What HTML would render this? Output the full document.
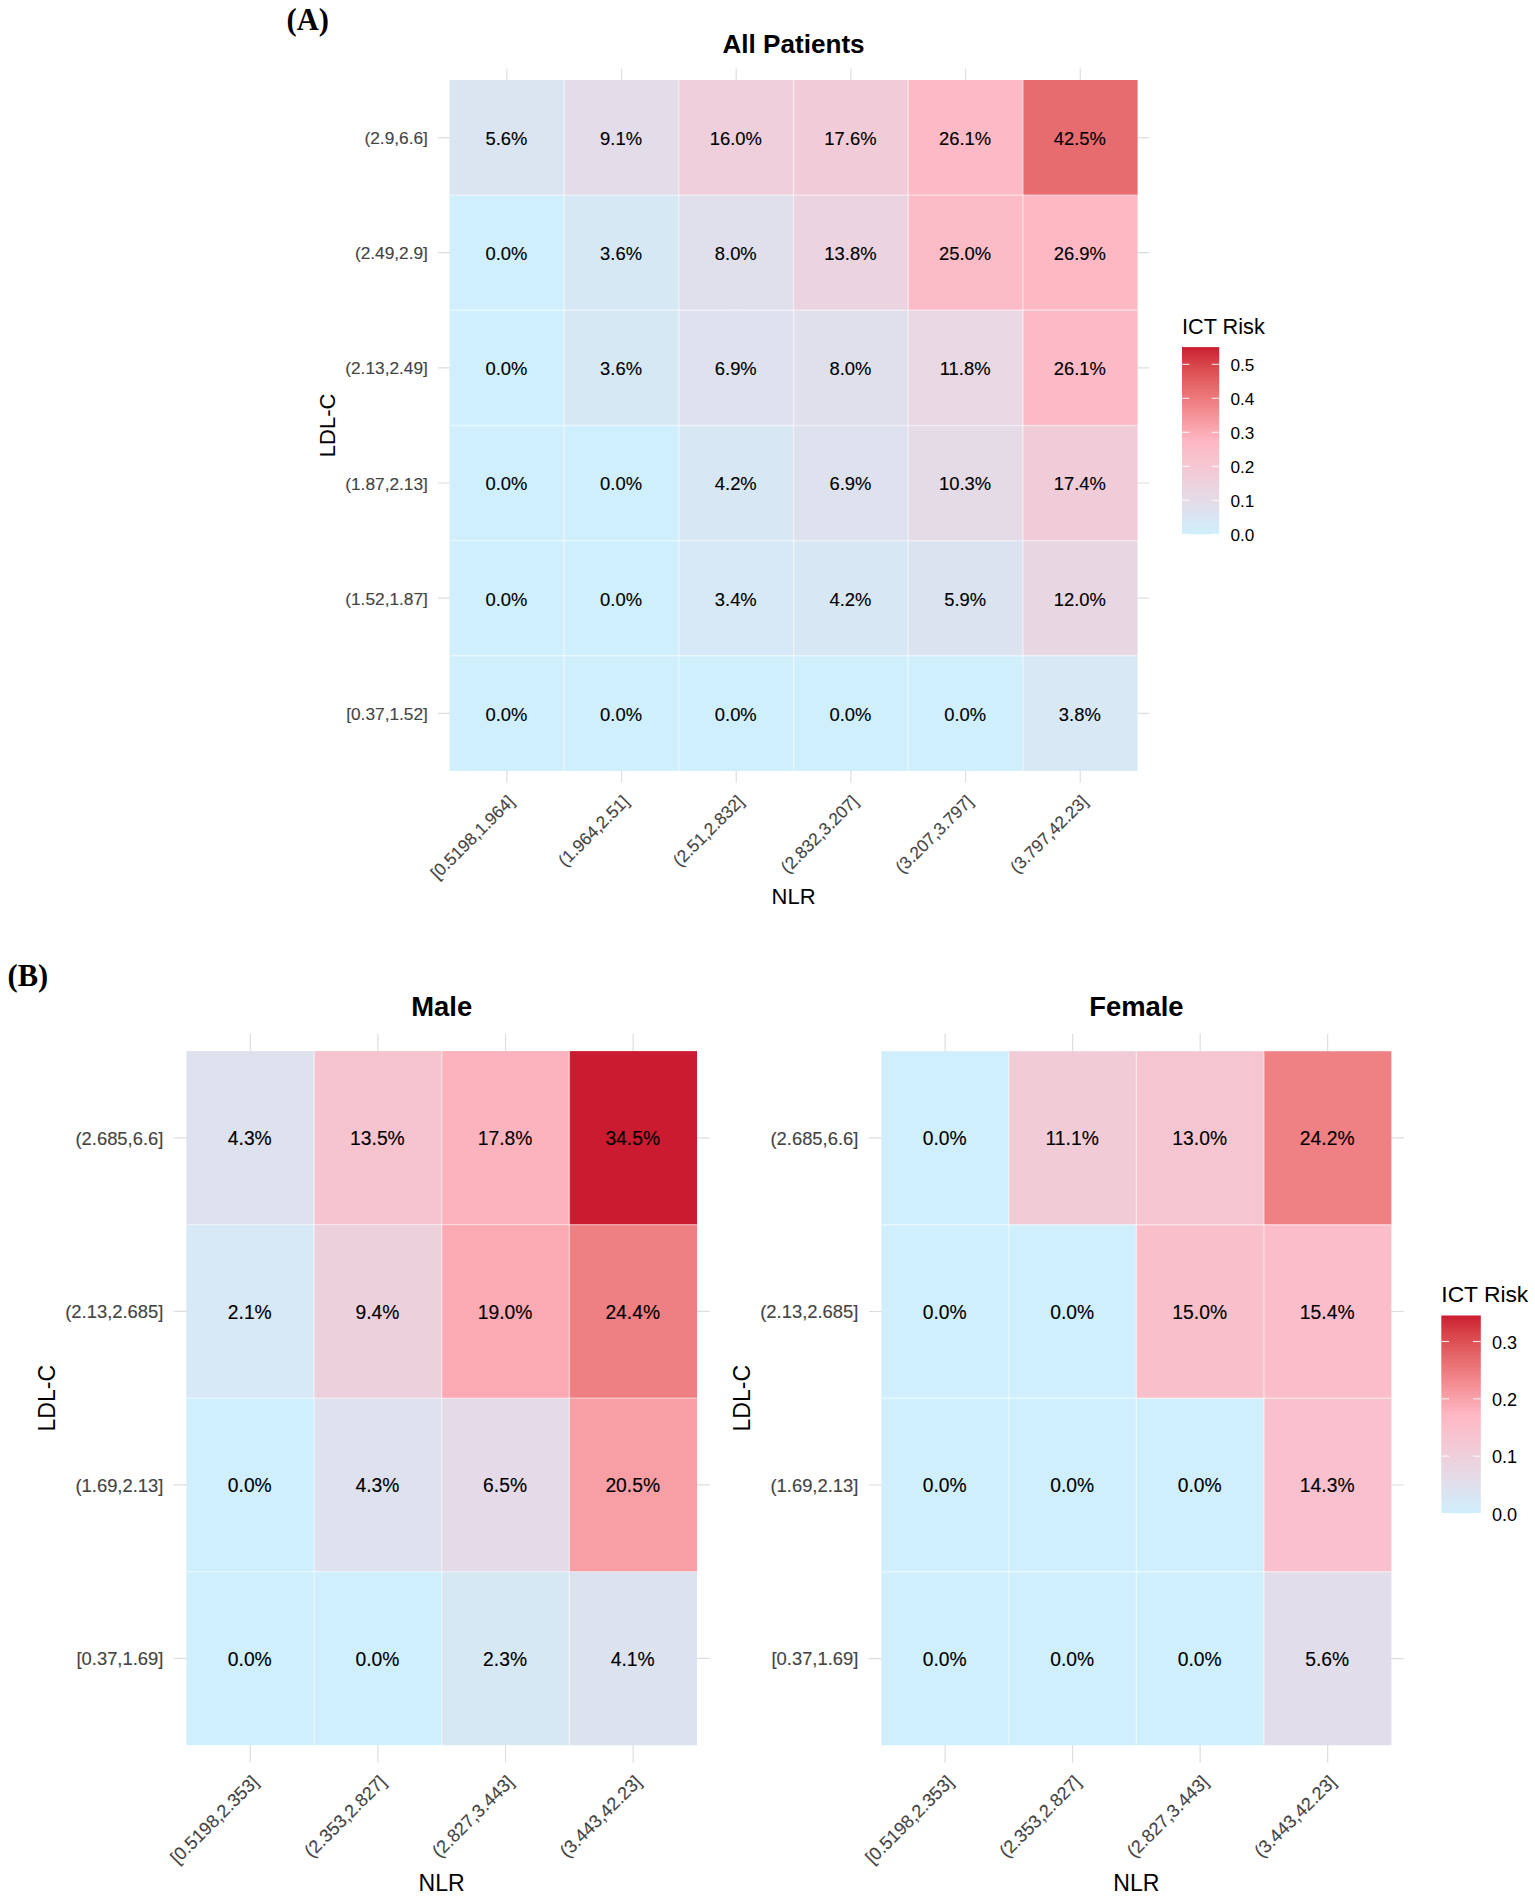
<!DOCTYPE html>
<html><head><meta charset="utf-8"><title>ICT Risk heatmaps</title>
<style>
html,body{margin:0;padding:0;background:#fff;}
svg{display:block;}
text{font-family:"Liberation Sans", Arial, Helvetica, sans-serif;}
.cell{font-size:18.4px;fill:#000;text-anchor:middle;stroke:#000;stroke-width:0.14px;}
.ax{font-size:17.3px;fill:#444;stroke:#444;stroke-width:0.14px;}
.axt{font-size:22px;fill:#000;}
.leg{font-size:17.2px;fill:#000;}
.title{font-size:26.1px;font-weight:bold;fill:#000;}
.cellB{font-size:19.3px;fill:#000;text-anchor:middle;stroke:#000;stroke-width:0.14px;}
.axB{font-size:18.4px;fill:#444;stroke:#444;stroke-width:0.14px;}
.axtB{font-size:23.1px;fill:#000;}
.legB{font-size:18.1px;fill:#000;}
.titleB{font-size:27.4px;font-weight:bold;fill:#000;}
.axx{font-size:17.2px;}
.axxB{font-size:18.1px;}
.lt{font-size:21.7px;fill:#000;}
.ltB{font-size:22.8px;fill:#000;}
.lab{font-family:"Liberation Serif", "Times New Roman", serif;font-size:30.5px;font-weight:bold;fill:#000;}
</style></head><body>
<svg width="1535" height="1901" viewBox="0 0 1535 1901">
<rect width="1535" height="1901" fill="#ffffff"/>
<line x1="506.84" y1="68.48" x2="506.84" y2="782.41" stroke="#dedede" stroke-width="1.2"/>
<line x1="621.52" y1="68.48" x2="621.52" y2="782.41" stroke="#dedede" stroke-width="1.2"/>
<line x1="736.21" y1="68.48" x2="736.21" y2="782.41" stroke="#dedede" stroke-width="1.2"/>
<line x1="850.89" y1="68.48" x2="850.89" y2="782.41" stroke="#dedede" stroke-width="1.2"/>
<line x1="965.57" y1="68.48" x2="965.57" y2="782.41" stroke="#dedede" stroke-width="1.2"/>
<line x1="1080.26" y1="68.48" x2="1080.26" y2="782.41" stroke="#dedede" stroke-width="1.2"/>
<line x1="438.03" y1="137.57" x2="1149.07" y2="137.57" stroke="#dedede" stroke-width="1.2"/>
<line x1="438.03" y1="252.72" x2="1149.07" y2="252.72" stroke="#dedede" stroke-width="1.2"/>
<line x1="438.03" y1="367.88" x2="1149.07" y2="367.88" stroke="#dedede" stroke-width="1.2"/>
<line x1="438.03" y1="483.02" x2="1149.07" y2="483.02" stroke="#dedede" stroke-width="1.2"/>
<line x1="438.03" y1="598.17" x2="1149.07" y2="598.17" stroke="#dedede" stroke-width="1.2"/>
<line x1="438.03" y1="713.32" x2="1149.07" y2="713.32" stroke="#dedede" stroke-width="1.2"/>
<g>
<rect x="449.50" y="80.00" width="115.28" height="115.75" fill="#dbe4f1"/>
<rect x="564.18" y="80.00" width="115.28" height="115.75" fill="#e2dde9"/>
<rect x="678.87" y="80.00" width="115.28" height="115.75" fill="#eecfdb"/>
<rect x="793.55" y="80.00" width="115.28" height="115.75" fill="#f1ccd8"/>
<rect x="908.23" y="80.00" width="115.28" height="115.75" fill="#fcbac6"/>
<rect x="1022.92" y="80.00" width="114.68" height="115.75" fill="#e76c6f"/>
<rect x="449.50" y="195.15" width="115.28" height="115.75" fill="#cfeffd"/>
<rect x="564.18" y="195.15" width="115.28" height="115.75" fill="#d7e8f5"/>
<rect x="678.87" y="195.15" width="115.28" height="115.75" fill="#e0dfec"/>
<rect x="793.55" y="195.15" width="115.28" height="115.75" fill="#ebd4e0"/>
<rect x="908.23" y="195.15" width="115.28" height="115.75" fill="#fbbcc8"/>
<rect x="1022.92" y="195.15" width="114.68" height="115.75" fill="#fdb8c4"/>
<rect x="449.50" y="310.30" width="115.28" height="115.75" fill="#cfeffd"/>
<rect x="564.18" y="310.30" width="115.28" height="115.75" fill="#d7e8f5"/>
<rect x="678.87" y="310.30" width="115.28" height="115.75" fill="#dee1ee"/>
<rect x="793.55" y="310.30" width="115.28" height="115.75" fill="#e0dfec"/>
<rect x="908.23" y="310.30" width="115.28" height="115.75" fill="#e7d8e4"/>
<rect x="1022.92" y="310.30" width="114.68" height="115.75" fill="#fcbac6"/>
<rect x="449.50" y="425.45" width="115.28" height="115.75" fill="#cfeffd"/>
<rect x="564.18" y="425.45" width="115.28" height="115.75" fill="#cfeffd"/>
<rect x="678.87" y="425.45" width="115.28" height="115.75" fill="#d8e7f4"/>
<rect x="793.55" y="425.45" width="115.28" height="115.75" fill="#dee1ee"/>
<rect x="908.23" y="425.45" width="115.28" height="115.75" fill="#e4dbe7"/>
<rect x="1022.92" y="425.45" width="114.68" height="115.75" fill="#f0ccd8"/>
<rect x="449.50" y="540.60" width="115.28" height="115.75" fill="#cfeffd"/>
<rect x="564.18" y="540.60" width="115.28" height="115.75" fill="#cfeffd"/>
<rect x="678.87" y="540.60" width="115.28" height="115.75" fill="#d7e8f6"/>
<rect x="793.55" y="540.60" width="115.28" height="115.75" fill="#d8e7f4"/>
<rect x="908.23" y="540.60" width="115.28" height="115.75" fill="#dce3f0"/>
<rect x="1022.92" y="540.60" width="114.68" height="115.75" fill="#e7d7e3"/>
<rect x="449.50" y="655.75" width="115.28" height="115.15" fill="#cfeffd"/>
<rect x="564.18" y="655.75" width="115.28" height="115.15" fill="#cfeffd"/>
<rect x="678.87" y="655.75" width="115.28" height="115.15" fill="#cfeffd"/>
<rect x="793.55" y="655.75" width="115.28" height="115.15" fill="#cfeffd"/>
<rect x="908.23" y="655.75" width="115.28" height="115.15" fill="#cfeffd"/>
<rect x="1022.92" y="655.75" width="114.68" height="115.15" fill="#d8e8f5"/>
</g>
<line x1="564.18" y1="80.00" x2="564.18" y2="770.90" stroke="#fff" stroke-opacity="0.5" stroke-width="1.4"/>
<line x1="678.87" y1="80.00" x2="678.87" y2="770.90" stroke="#fff" stroke-opacity="0.5" stroke-width="1.4"/>
<line x1="793.55" y1="80.00" x2="793.55" y2="770.90" stroke="#fff" stroke-opacity="0.5" stroke-width="1.4"/>
<line x1="908.23" y1="80.00" x2="908.23" y2="770.90" stroke="#fff" stroke-opacity="0.5" stroke-width="1.4"/>
<line x1="1022.92" y1="80.00" x2="1022.92" y2="770.90" stroke="#fff" stroke-opacity="0.5" stroke-width="1.4"/>
<line x1="449.50" y1="195.15" x2="1137.60" y2="195.15" stroke="#fff" stroke-opacity="0.5" stroke-width="1.4"/>
<line x1="449.50" y1="310.30" x2="1137.60" y2="310.30" stroke="#fff" stroke-opacity="0.5" stroke-width="1.4"/>
<line x1="449.50" y1="425.45" x2="1137.60" y2="425.45" stroke="#fff" stroke-opacity="0.5" stroke-width="1.4"/>
<line x1="449.50" y1="540.60" x2="1137.60" y2="540.60" stroke="#fff" stroke-opacity="0.5" stroke-width="1.4"/>
<line x1="449.50" y1="655.75" x2="1137.60" y2="655.75" stroke="#fff" stroke-opacity="0.5" stroke-width="1.4"/>
<text x="506.39" y="144.97" class="cell">5.6%</text>
<text x="621.07" y="144.97" class="cell">9.1%</text>
<text x="735.76" y="144.97" class="cell">16.0%</text>
<text x="850.44" y="144.97" class="cell">17.6%</text>
<text x="965.12" y="144.97" class="cell">26.1%</text>
<text x="1079.81" y="144.97" class="cell">42.5%</text>
<text x="506.39" y="260.12" class="cell">0.0%</text>
<text x="621.07" y="260.12" class="cell">3.6%</text>
<text x="735.76" y="260.12" class="cell">8.0%</text>
<text x="850.44" y="260.12" class="cell">13.8%</text>
<text x="965.12" y="260.12" class="cell">25.0%</text>
<text x="1079.81" y="260.12" class="cell">26.9%</text>
<text x="506.39" y="375.27" class="cell">0.0%</text>
<text x="621.07" y="375.27" class="cell">3.6%</text>
<text x="735.76" y="375.27" class="cell">6.9%</text>
<text x="850.44" y="375.27" class="cell">8.0%</text>
<text x="965.12" y="375.27" class="cell">11.8%</text>
<text x="1079.81" y="375.27" class="cell">26.1%</text>
<text x="506.39" y="490.42" class="cell">0.0%</text>
<text x="621.07" y="490.42" class="cell">0.0%</text>
<text x="735.76" y="490.42" class="cell">4.2%</text>
<text x="850.44" y="490.42" class="cell">6.9%</text>
<text x="965.12" y="490.42" class="cell">10.3%</text>
<text x="1079.81" y="490.42" class="cell">17.4%</text>
<text x="506.39" y="605.57" class="cell">0.0%</text>
<text x="621.07" y="605.57" class="cell">0.0%</text>
<text x="735.76" y="605.57" class="cell">3.4%</text>
<text x="850.44" y="605.57" class="cell">4.2%</text>
<text x="965.12" y="605.57" class="cell">5.9%</text>
<text x="1079.81" y="605.57" class="cell">12.0%</text>
<text x="506.39" y="720.72" class="cell">0.0%</text>
<text x="621.07" y="720.72" class="cell">0.0%</text>
<text x="735.76" y="720.72" class="cell">0.0%</text>
<text x="850.44" y="720.72" class="cell">0.0%</text>
<text x="965.12" y="720.72" class="cell">0.0%</text>
<text x="1079.81" y="720.72" class="cell">3.8%</text>
<text x="427.90" y="144.07" class="ax" text-anchor="end">(2.9,6.6]</text>
<text x="427.90" y="259.23" class="ax" text-anchor="end">(2.49,2.9]</text>
<text x="427.90" y="374.38" class="ax" text-anchor="end">(2.13,2.49]</text>
<text x="427.90" y="489.52" class="ax" text-anchor="end">(1.87,2.13]</text>
<text x="427.90" y="604.67" class="ax" text-anchor="end">(1.52,1.87]</text>
<text x="427.90" y="719.82" class="ax" text-anchor="end">[0.37,1.52]</text>
<text transform="translate(515.44,802.50) rotate(-45)" class="ax axx" text-anchor="end">[0.5198,1.964]</text>
<text transform="translate(630.12,802.50) rotate(-45)" class="ax axx" text-anchor="end">(1.964,2.51]</text>
<text transform="translate(744.81,802.50) rotate(-45)" class="ax axx" text-anchor="end">(2.51,2.832]</text>
<text transform="translate(859.49,802.50) rotate(-45)" class="ax axx" text-anchor="end">(2.832,3.207]</text>
<text transform="translate(974.17,802.50) rotate(-45)" class="ax axx" text-anchor="end">(3.207,3.797]</text>
<text transform="translate(1088.86,802.50) rotate(-45)" class="ax axx" text-anchor="end">(3.797,42.23]</text>
<text x="793.55" y="53.00" class="title" text-anchor="middle">All Patients</text>
<text x="793.55" y="904.00" class="axt" text-anchor="middle">NLR</text>
<text transform="translate(334.90,425.45) rotate(-90)" class="axt" text-anchor="middle">LDL-C</text>
<line x1="250.23" y1="1033.75" x2="250.23" y2="1762.55" stroke="#dedede" stroke-width="1.2"/>
<line x1="377.88" y1="1033.75" x2="377.88" y2="1762.55" stroke="#dedede" stroke-width="1.2"/>
<line x1="505.52" y1="1033.75" x2="505.52" y2="1762.55" stroke="#dedede" stroke-width="1.2"/>
<line x1="633.18" y1="1033.75" x2="633.18" y2="1762.55" stroke="#dedede" stroke-width="1.2"/>
<line x1="173.63" y1="1137.86" x2="709.76" y2="1137.86" stroke="#dedede" stroke-width="1.2"/>
<line x1="173.63" y1="1311.39" x2="709.76" y2="1311.39" stroke="#dedede" stroke-width="1.2"/>
<line x1="173.63" y1="1484.91" x2="709.76" y2="1484.91" stroke="#dedede" stroke-width="1.2"/>
<line x1="173.63" y1="1658.44" x2="709.76" y2="1658.44" stroke="#dedede" stroke-width="1.2"/>
<g>
<rect x="186.40" y="1051.10" width="128.25" height="174.12" fill="#dee1ee"/>
<rect x="314.05" y="1051.10" width="128.25" height="174.12" fill="#f6c4cf"/>
<rect x="441.70" y="1051.10" width="128.25" height="174.12" fill="#fdb3be"/>
<rect x="569.35" y="1051.10" width="127.65" height="174.12" fill="#cb1b30"/>
<rect x="186.40" y="1224.62" width="128.25" height="174.12" fill="#d7e8f6"/>
<rect x="314.05" y="1224.62" width="128.25" height="174.12" fill="#ecd1dd"/>
<rect x="441.70" y="1224.62" width="128.25" height="174.12" fill="#fba9b3"/>
<rect x="569.35" y="1224.62" width="127.65" height="174.12" fill="#ee7f83"/>
<rect x="186.40" y="1398.15" width="128.25" height="174.12" fill="#cfeffd"/>
<rect x="314.05" y="1398.15" width="128.25" height="174.12" fill="#dee1ee"/>
<rect x="441.70" y="1398.15" width="128.25" height="174.12" fill="#e5dae7"/>
<rect x="569.35" y="1398.15" width="127.65" height="174.12" fill="#f89ea5"/>
<rect x="186.40" y="1571.67" width="128.25" height="173.53" fill="#cfeffd"/>
<rect x="314.05" y="1571.67" width="128.25" height="173.53" fill="#cfeffd"/>
<rect x="441.70" y="1571.67" width="128.25" height="173.53" fill="#d7e8f5"/>
<rect x="569.35" y="1571.67" width="127.65" height="173.53" fill="#dde2ef"/>
</g>
<line x1="314.05" y1="1051.10" x2="314.05" y2="1745.20" stroke="#fff" stroke-opacity="0.5" stroke-width="1.4"/>
<line x1="441.70" y1="1051.10" x2="441.70" y2="1745.20" stroke="#fff" stroke-opacity="0.5" stroke-width="1.4"/>
<line x1="569.35" y1="1051.10" x2="569.35" y2="1745.20" stroke="#fff" stroke-opacity="0.5" stroke-width="1.4"/>
<line x1="186.40" y1="1224.62" x2="697.00" y2="1224.62" stroke="#fff" stroke-opacity="0.5" stroke-width="1.4"/>
<line x1="186.40" y1="1398.15" x2="697.00" y2="1398.15" stroke="#fff" stroke-opacity="0.5" stroke-width="1.4"/>
<line x1="186.40" y1="1571.67" x2="697.00" y2="1571.67" stroke="#fff" stroke-opacity="0.5" stroke-width="1.4"/>
<text x="249.78" y="1145.06" class="cellB">4.3%</text>
<text x="377.43" y="1145.06" class="cellB">13.5%</text>
<text x="505.07" y="1145.06" class="cellB">17.8%</text>
<text x="632.73" y="1145.06" class="cellB">34.5%</text>
<text x="249.78" y="1318.59" class="cellB">2.1%</text>
<text x="377.43" y="1318.59" class="cellB">9.4%</text>
<text x="505.07" y="1318.59" class="cellB">19.0%</text>
<text x="632.73" y="1318.59" class="cellB">24.4%</text>
<text x="249.78" y="1492.11" class="cellB">0.0%</text>
<text x="377.43" y="1492.11" class="cellB">4.3%</text>
<text x="505.07" y="1492.11" class="cellB">6.5%</text>
<text x="632.73" y="1492.11" class="cellB">20.5%</text>
<text x="249.78" y="1665.64" class="cellB">0.0%</text>
<text x="377.43" y="1665.64" class="cellB">0.0%</text>
<text x="505.07" y="1665.64" class="cellB">2.3%</text>
<text x="632.73" y="1665.64" class="cellB">4.1%</text>
<text x="163.40" y="1144.69" class="axB" text-anchor="end">(2.685,6.6]</text>
<text x="163.40" y="1318.21" class="axB" text-anchor="end">(2.13,2.685]</text>
<text x="163.40" y="1491.74" class="axB" text-anchor="end">(1.69,2.13]</text>
<text x="163.40" y="1665.26" class="axB" text-anchor="end">[0.37,1.69]</text>
<text transform="translate(259.62,1783.10) rotate(-45)" class="axB axxB" text-anchor="end">[0.5198,2.353]</text>
<text transform="translate(387.27,1783.10) rotate(-45)" class="axB axxB" text-anchor="end">(2.353,2.827]</text>
<text transform="translate(514.92,1783.10) rotate(-45)" class="axB axxB" text-anchor="end">(2.827,3.443]</text>
<text transform="translate(642.58,1783.10) rotate(-45)" class="axB axxB" text-anchor="end">(3.443,42.23]</text>
<text x="441.70" y="1015.70" class="titleB" text-anchor="middle">Male</text>
<text x="441.70" y="1890.70" class="axtB" text-anchor="middle">NLR</text>
<text transform="translate(54.50,1398.15) rotate(-90)" class="axtB" text-anchor="middle">LDL-C</text>
<line x1="945.15" y1="1033.85" x2="945.15" y2="1762.65" stroke="#dedede" stroke-width="1.2"/>
<line x1="1072.65" y1="1033.85" x2="1072.65" y2="1762.65" stroke="#dedede" stroke-width="1.2"/>
<line x1="1200.15" y1="1033.85" x2="1200.15" y2="1762.65" stroke="#dedede" stroke-width="1.2"/>
<line x1="1327.65" y1="1033.85" x2="1327.65" y2="1762.65" stroke="#dedede" stroke-width="1.2"/>
<line x1="868.65" y1="1137.96" x2="1404.15" y2="1137.96" stroke="#dedede" stroke-width="1.2"/>
<line x1="868.65" y1="1311.49" x2="1404.15" y2="1311.49" stroke="#dedede" stroke-width="1.2"/>
<line x1="868.65" y1="1485.01" x2="1404.15" y2="1485.01" stroke="#dedede" stroke-width="1.2"/>
<line x1="868.65" y1="1658.54" x2="1404.15" y2="1658.54" stroke="#dedede" stroke-width="1.2"/>
<g>
<rect x="881.40" y="1051.20" width="128.10" height="174.12" fill="#cfeffd"/>
<rect x="1008.90" y="1051.20" width="128.10" height="174.12" fill="#f1ccd7"/>
<rect x="1136.40" y="1051.20" width="128.10" height="174.12" fill="#f5c5d1"/>
<rect x="1263.90" y="1051.20" width="127.50" height="174.12" fill="#ef8084"/>
<rect x="881.40" y="1224.72" width="128.10" height="174.12" fill="#cfeffd"/>
<rect x="1008.90" y="1224.72" width="128.10" height="174.12" fill="#cfeffd"/>
<rect x="1136.40" y="1224.72" width="128.10" height="174.12" fill="#f9bfca"/>
<rect x="1263.90" y="1224.72" width="127.50" height="174.12" fill="#fabdc9"/>
<rect x="881.40" y="1398.25" width="128.10" height="174.12" fill="#cfeffd"/>
<rect x="1008.90" y="1398.25" width="128.10" height="174.12" fill="#cfeffd"/>
<rect x="1136.40" y="1398.25" width="128.10" height="174.12" fill="#cfeffd"/>
<rect x="1263.90" y="1398.25" width="127.50" height="174.12" fill="#f8c1cd"/>
<rect x="881.40" y="1571.78" width="128.10" height="173.52" fill="#cfeffd"/>
<rect x="1008.90" y="1571.78" width="128.10" height="173.52" fill="#cfeffd"/>
<rect x="1136.40" y="1571.78" width="128.10" height="173.52" fill="#cfeffd"/>
<rect x="1263.90" y="1571.78" width="127.50" height="173.52" fill="#e2ddea"/>
</g>
<line x1="1008.90" y1="1051.20" x2="1008.90" y2="1745.30" stroke="#fff" stroke-opacity="0.5" stroke-width="1.4"/>
<line x1="1136.40" y1="1051.20" x2="1136.40" y2="1745.30" stroke="#fff" stroke-opacity="0.5" stroke-width="1.4"/>
<line x1="1263.90" y1="1051.20" x2="1263.90" y2="1745.30" stroke="#fff" stroke-opacity="0.5" stroke-width="1.4"/>
<line x1="881.40" y1="1224.72" x2="1391.40" y2="1224.72" stroke="#fff" stroke-opacity="0.5" stroke-width="1.4"/>
<line x1="881.40" y1="1398.25" x2="1391.40" y2="1398.25" stroke="#fff" stroke-opacity="0.5" stroke-width="1.4"/>
<line x1="881.40" y1="1571.78" x2="1391.40" y2="1571.78" stroke="#fff" stroke-opacity="0.5" stroke-width="1.4"/>
<text x="944.70" y="1145.16" class="cellB">0.0%</text>
<text x="1072.20" y="1145.16" class="cellB">11.1%</text>
<text x="1199.70" y="1145.16" class="cellB">13.0%</text>
<text x="1327.20" y="1145.16" class="cellB">24.2%</text>
<text x="944.70" y="1318.69" class="cellB">0.0%</text>
<text x="1072.20" y="1318.69" class="cellB">0.0%</text>
<text x="1199.70" y="1318.69" class="cellB">15.0%</text>
<text x="1327.20" y="1318.69" class="cellB">15.4%</text>
<text x="944.70" y="1492.21" class="cellB">0.0%</text>
<text x="1072.20" y="1492.21" class="cellB">0.0%</text>
<text x="1199.70" y="1492.21" class="cellB">0.0%</text>
<text x="1327.20" y="1492.21" class="cellB">14.3%</text>
<text x="944.70" y="1665.74" class="cellB">0.0%</text>
<text x="1072.20" y="1665.74" class="cellB">0.0%</text>
<text x="1199.70" y="1665.74" class="cellB">0.0%</text>
<text x="1327.20" y="1665.74" class="cellB">5.6%</text>
<text x="858.40" y="1144.79" class="axB" text-anchor="end">(2.685,6.6]</text>
<text x="858.40" y="1318.31" class="axB" text-anchor="end">(2.13,2.685]</text>
<text x="858.40" y="1491.84" class="axB" text-anchor="end">(1.69,2.13]</text>
<text x="858.40" y="1665.36" class="axB" text-anchor="end">[0.37,1.69]</text>
<text transform="translate(954.55,1783.20) rotate(-45)" class="axB axxB" text-anchor="end">[0.5198,2.353]</text>
<text transform="translate(1082.05,1783.20) rotate(-45)" class="axB axxB" text-anchor="end">(2.353,2.827]</text>
<text transform="translate(1209.55,1783.20) rotate(-45)" class="axB axxB" text-anchor="end">(2.827,3.443]</text>
<text transform="translate(1337.05,1783.20) rotate(-45)" class="axB axxB" text-anchor="end">(3.443,42.23]</text>
<text x="1136.40" y="1015.70" class="titleB" text-anchor="middle">Female</text>
<text x="1136.40" y="1890.70" class="axtB" text-anchor="middle">NLR</text>
<text transform="translate(749.50,1398.25) rotate(-90)" class="axtB" text-anchor="middle">LDL-C</text>
<defs><linearGradient id="gA" x1="0" y1="1" x2="0" y2="0">
<stop offset="0.0000" stop-color="#cfeffd"/>
<stop offset="0.0250" stop-color="#d2ecfa"/>
<stop offset="0.0500" stop-color="#d5eaf7"/>
<stop offset="0.0750" stop-color="#d8e7f4"/>
<stop offset="0.1000" stop-color="#dbe4f1"/>
<stop offset="0.1250" stop-color="#dee1ee"/>
<stop offset="0.1500" stop-color="#e1dfeb"/>
<stop offset="0.1750" stop-color="#e3dce8"/>
<stop offset="0.2000" stop-color="#e6d9e5"/>
<stop offset="0.2250" stop-color="#e8d6e3"/>
<stop offset="0.2500" stop-color="#ead4e0"/>
<stop offset="0.2750" stop-color="#edd1dd"/>
<stop offset="0.3000" stop-color="#efceda"/>
<stop offset="0.3250" stop-color="#f1cbd7"/>
<stop offset="0.3500" stop-color="#f3c8d4"/>
<stop offset="0.3750" stop-color="#f5c6d1"/>
<stop offset="0.4000" stop-color="#f7c3ce"/>
<stop offset="0.4250" stop-color="#f9c0cc"/>
<stop offset="0.4500" stop-color="#fbbdc9"/>
<stop offset="0.4750" stop-color="#fcbac6"/>
<stop offset="0.5000" stop-color="#feb7c3"/>
<stop offset="0.5250" stop-color="#fdb0bb"/>
<stop offset="0.5500" stop-color="#fbaab3"/>
<stop offset="0.5750" stop-color="#f9a3ab"/>
<stop offset="0.6000" stop-color="#f79ca3"/>
<stop offset="0.6250" stop-color="#f5959c"/>
<stop offset="0.6500" stop-color="#f38f94"/>
<stop offset="0.6750" stop-color="#f1888c"/>
<stop offset="0.7000" stop-color="#ef8185"/>
<stop offset="0.7250" stop-color="#ec7a7d"/>
<stop offset="0.7500" stop-color="#ea7376"/>
<stop offset="0.7750" stop-color="#e76c6f"/>
<stop offset="0.8000" stop-color="#e46567"/>
<stop offset="0.8250" stop-color="#e25d60"/>
<stop offset="0.8500" stop-color="#df5659"/>
<stop offset="0.8750" stop-color="#dc4e52"/>
<stop offset="0.9000" stop-color="#d8464b"/>
<stop offset="0.9250" stop-color="#d53d44"/>
<stop offset="0.9500" stop-color="#d2333d"/>
<stop offset="0.9750" stop-color="#cf2937"/>
<stop offset="1.0000" stop-color="#cb1b30"/>
</linearGradient></defs>
<rect x="1182.00" y="347.10" width="37.20" height="187.20" fill="url(#gA)"/>
<line x1="1182.00" y1="534.30" x2="1189.44" y2="534.30" stroke="#fff" stroke-opacity="0.85" stroke-width="1.1"/>
<line x1="1211.76" y1="534.30" x2="1219.20" y2="534.30" stroke="#fff" stroke-opacity="0.85" stroke-width="1.1"/>
<text x="1230.50" y="540.60" class="leg">0.0</text>
<line x1="1182.00" y1="500.30" x2="1189.44" y2="500.30" stroke="#fff" stroke-opacity="0.85" stroke-width="1.1"/>
<line x1="1211.76" y1="500.30" x2="1219.20" y2="500.30" stroke="#fff" stroke-opacity="0.85" stroke-width="1.1"/>
<text x="1230.50" y="506.60" class="leg">0.1</text>
<line x1="1182.00" y1="466.30" x2="1189.44" y2="466.30" stroke="#fff" stroke-opacity="0.85" stroke-width="1.1"/>
<line x1="1211.76" y1="466.30" x2="1219.20" y2="466.30" stroke="#fff" stroke-opacity="0.85" stroke-width="1.1"/>
<text x="1230.50" y="472.60" class="leg">0.2</text>
<line x1="1182.00" y1="432.30" x2="1189.44" y2="432.30" stroke="#fff" stroke-opacity="0.85" stroke-width="1.1"/>
<line x1="1211.76" y1="432.30" x2="1219.20" y2="432.30" stroke="#fff" stroke-opacity="0.85" stroke-width="1.1"/>
<text x="1230.50" y="438.60" class="leg">0.3</text>
<line x1="1182.00" y1="398.30" x2="1189.44" y2="398.30" stroke="#fff" stroke-opacity="0.85" stroke-width="1.1"/>
<line x1="1211.76" y1="398.30" x2="1219.20" y2="398.30" stroke="#fff" stroke-opacity="0.85" stroke-width="1.1"/>
<text x="1230.50" y="404.60" class="leg">0.4</text>
<line x1="1182.00" y1="364.30" x2="1189.44" y2="364.30" stroke="#fff" stroke-opacity="0.85" stroke-width="1.1"/>
<line x1="1211.76" y1="364.30" x2="1219.20" y2="364.30" stroke="#fff" stroke-opacity="0.85" stroke-width="1.1"/>
<text x="1230.50" y="370.60" class="leg">0.5</text>
<text x="1182.00" y="334.00" class="lt">ICT Risk</text>
<defs><linearGradient id="gB" x1="0" y1="1" x2="0" y2="0">
<stop offset="0.0000" stop-color="#cfeffd"/>
<stop offset="0.0250" stop-color="#d2ecfa"/>
<stop offset="0.0500" stop-color="#d5eaf7"/>
<stop offset="0.0750" stop-color="#d8e7f4"/>
<stop offset="0.1000" stop-color="#dbe4f1"/>
<stop offset="0.1250" stop-color="#dee1ee"/>
<stop offset="0.1500" stop-color="#e1dfeb"/>
<stop offset="0.1750" stop-color="#e3dce8"/>
<stop offset="0.2000" stop-color="#e6d9e5"/>
<stop offset="0.2250" stop-color="#e8d6e3"/>
<stop offset="0.2500" stop-color="#ead4e0"/>
<stop offset="0.2750" stop-color="#edd1dd"/>
<stop offset="0.3000" stop-color="#efceda"/>
<stop offset="0.3250" stop-color="#f1cbd7"/>
<stop offset="0.3500" stop-color="#f3c8d4"/>
<stop offset="0.3750" stop-color="#f5c6d1"/>
<stop offset="0.4000" stop-color="#f7c3ce"/>
<stop offset="0.4250" stop-color="#f9c0cc"/>
<stop offset="0.4500" stop-color="#fbbdc9"/>
<stop offset="0.4750" stop-color="#fcbac6"/>
<stop offset="0.5000" stop-color="#feb7c3"/>
<stop offset="0.5250" stop-color="#fdb0bb"/>
<stop offset="0.5500" stop-color="#fbaab3"/>
<stop offset="0.5750" stop-color="#f9a3ab"/>
<stop offset="0.6000" stop-color="#f79ca3"/>
<stop offset="0.6250" stop-color="#f5959c"/>
<stop offset="0.6500" stop-color="#f38f94"/>
<stop offset="0.6750" stop-color="#f1888c"/>
<stop offset="0.7000" stop-color="#ef8185"/>
<stop offset="0.7250" stop-color="#ec7a7d"/>
<stop offset="0.7500" stop-color="#ea7376"/>
<stop offset="0.7750" stop-color="#e76c6f"/>
<stop offset="0.8000" stop-color="#e46567"/>
<stop offset="0.8250" stop-color="#e25d60"/>
<stop offset="0.8500" stop-color="#df5659"/>
<stop offset="0.8750" stop-color="#dc4e52"/>
<stop offset="0.9000" stop-color="#d8464b"/>
<stop offset="0.9250" stop-color="#d53d44"/>
<stop offset="0.9500" stop-color="#d2333d"/>
<stop offset="0.9750" stop-color="#cf2937"/>
<stop offset="1.0000" stop-color="#cb1b30"/>
</linearGradient></defs>
<rect x="1441.30" y="1315.50" width="39.50" height="197.90" fill="url(#gB)"/>
<line x1="1441.30" y1="1513.40" x2="1449.20" y2="1513.40" stroke="#fff" stroke-opacity="0.85" stroke-width="1.1"/>
<line x1="1472.90" y1="1513.40" x2="1480.80" y2="1513.40" stroke="#fff" stroke-opacity="0.85" stroke-width="1.1"/>
<text x="1492.00" y="1520.62" class="legB">0.0</text>
<line x1="1441.30" y1="1456.10" x2="1449.20" y2="1456.10" stroke="#fff" stroke-opacity="0.85" stroke-width="1.1"/>
<line x1="1472.90" y1="1456.10" x2="1480.80" y2="1456.10" stroke="#fff" stroke-opacity="0.85" stroke-width="1.1"/>
<text x="1492.00" y="1463.32" class="legB">0.1</text>
<line x1="1441.30" y1="1398.80" x2="1449.20" y2="1398.80" stroke="#fff" stroke-opacity="0.85" stroke-width="1.1"/>
<line x1="1472.90" y1="1398.80" x2="1480.80" y2="1398.80" stroke="#fff" stroke-opacity="0.85" stroke-width="1.1"/>
<text x="1492.00" y="1406.02" class="legB">0.2</text>
<line x1="1441.30" y1="1341.50" x2="1449.20" y2="1341.50" stroke="#fff" stroke-opacity="0.85" stroke-width="1.1"/>
<line x1="1472.90" y1="1341.50" x2="1480.80" y2="1341.50" stroke="#fff" stroke-opacity="0.85" stroke-width="1.1"/>
<text x="1492.00" y="1348.71" class="legB">0.3</text>
<text x="1441.30" y="1302.20" class="ltB">ICT Risk</text>
<text x="286.6" y="30.0" class="lab">(A)</text>
<text x="7.5" y="985.6" class="lab">(B)</text>
</svg>
</body></html>
